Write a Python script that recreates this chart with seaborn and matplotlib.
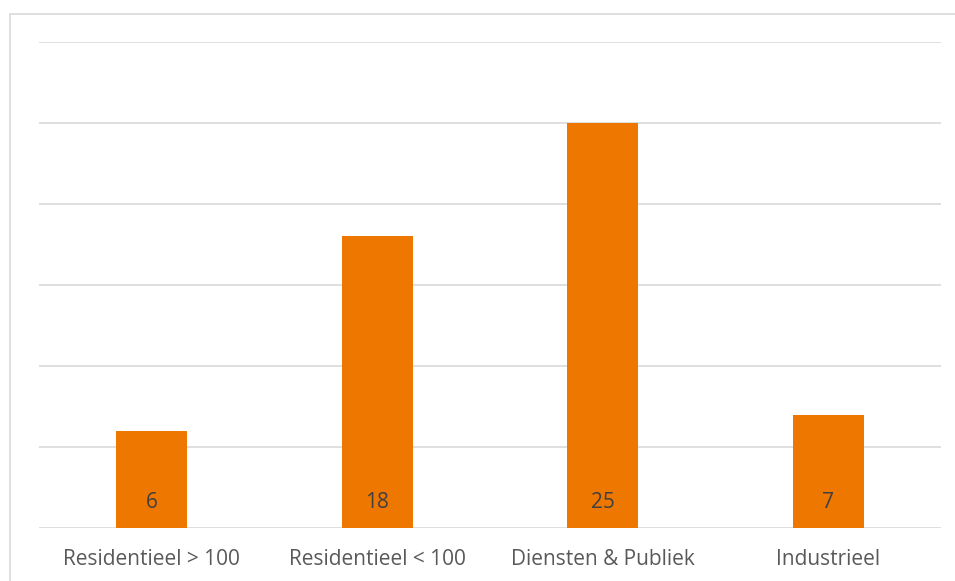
import matplotlib
matplotlib.use("Agg")
import matplotlib.pyplot as plt
import seaborn as sns
import pandas as pd
from matplotlib.patches import Rectangle

categories = ["Residentieel > 100", "Residentieel < 100", "Diensten & Publiek", "Industrieel"]
values = [6, 18, 25, 7]

sns.set_theme(style="white")
plt.rcParams['font.family'] = ['Open Sans', 'DejaVu Sans']

W, H = 955, 581
fig = plt.figure(figsize=(W / 100, H / 100), dpi=100)
ax = fig.add_axes([39 / W, 1 - 528 / H, (941 - 39) / W, (528 - 42) / H])

# figure border
fig.patches.append(Rectangle((9.5 / W, -0.1), 2, 1 - 13.5 / H + 0.1,
                             transform=fig.transFigure, fill=False,
                             edgecolor="#D9D9D9", linewidth=1.2, zorder=0))

df = pd.DataFrame({"cat": categories, "val": values})
sns.barplot(data=df, x="cat", y="val", ax=ax, color="#EE7700",
            width=0.315, saturation=1, zorder=3, linewidth=0)

ax.set_ylim(0, 30)
ax.set_xlim(-0.5, 3.5)
ax.set_yticks([0, 5, 10, 15, 20, 25, 30])
ax.set_yticklabels([])
ax.yaxis.grid(True, color="#D9D9D9", linewidth=1.2, zorder=0)
ax.set_axisbelow(True)
for s in ax.spines.values():
    s.set_visible(False)
ax.tick_params(axis="both", length=0)
ax.tick_params(axis="x", labelsize=15, labelcolor="#595959", pad=15)
ax.set_xlabel("")
ax.set_ylabel("")

for i, v in enumerate(values):
    ax.text(i, 1.55, str(v), ha="center", va="center", fontsize=15,
            color="#404040", zorder=4)

fig.savefig("out.png", dpi=100)
